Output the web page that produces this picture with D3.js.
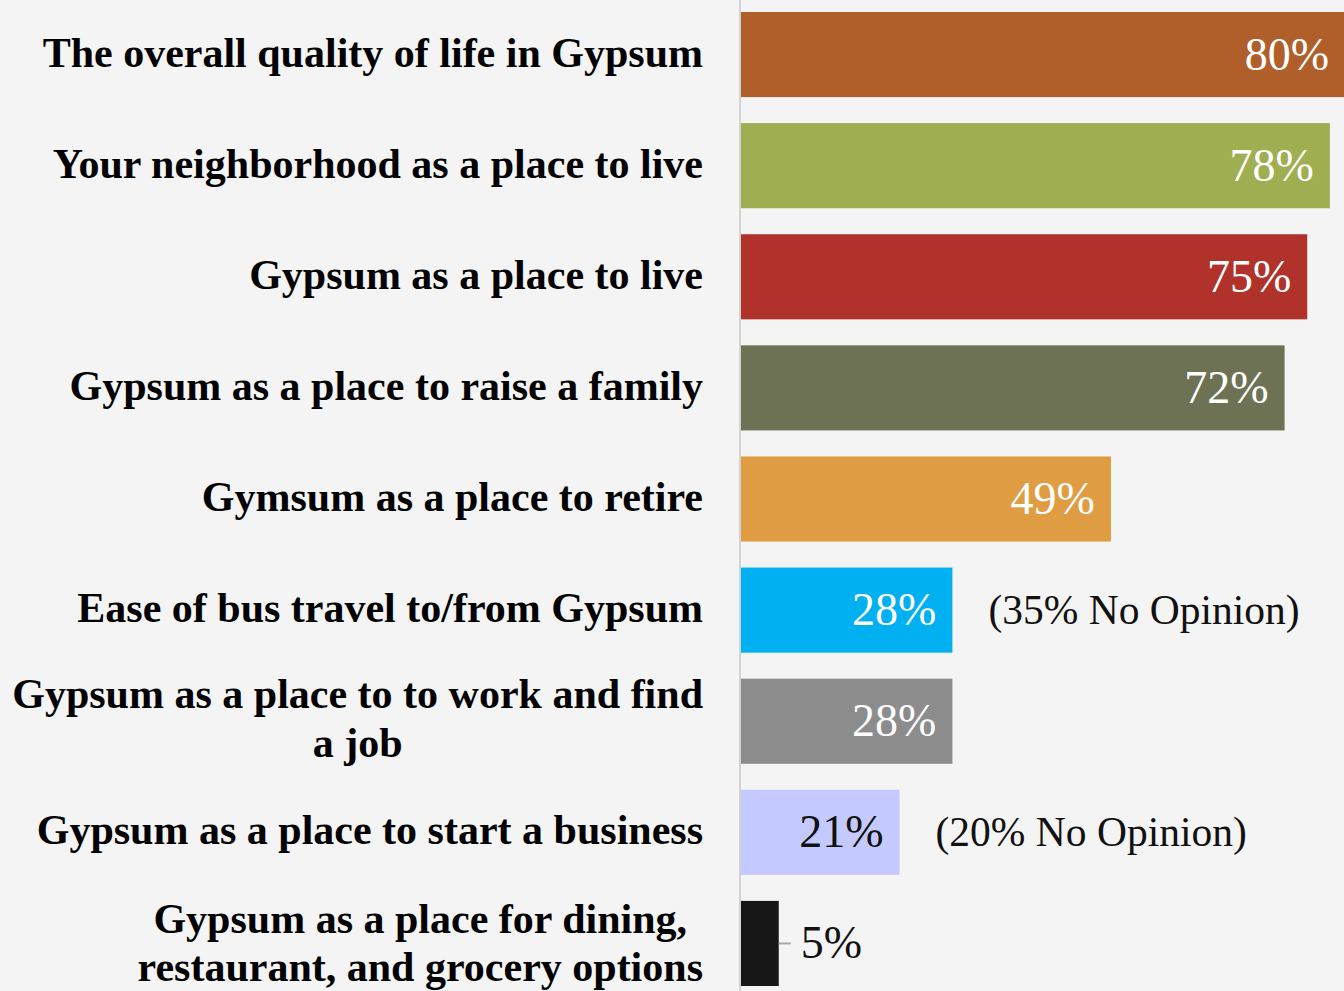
<!DOCTYPE html>
<html>
<head>
<meta charset="utf-8">
<script src="https://cdn.jsdelivr.net/npm/d3@7"></script>
<style>
  body { margin: 0; background: #f4f4f4; }
  svg { display: block; }
</style>
</head>
<body>
<div id="chart"></div>
<script>
var categories = [
    "The overall quality of life in Gypsum",
    "Your neighborhood as a place to live",
    "Gypsum as a place to live",
    "Gypsum as a place to raise a family",
    "Gymsum as a place to retire",
    "Ease of bus travel to/from Gypsum",
    "Gypsum as a place to to work and find|a job",
    "Gypsum as a place to start a business",
    "Gypsum as a place for dining,|restaurant, and grocery options"
];
var values = [80, 78, 75, 72, 49, 28, 28, 21, 5];
var colors = ["#b05e2a", "#a0ae52", "#b0322b", "#6e7254", "#e09c42", "#00b0f0", "#8c8c8c", "#c4caff", "#171717"];
var labelColors = ["#fff", "#fff", "#fff", "#fff", "#fff", "#fff", "#fff", "#111", "#111"];
var notes = ["", "", "", "", "", "(35% No Opinion)", "", "(20% No Opinion)", ""];

var width = 1344,
    height = 991,
    axisX = 741,
    labelRight = 703;

var svg = d3.select("#chart")
    .append("svg")
    .attr("width", width)
    .attr("height", height);

// scales
var x = d3.scaleLinear()
    .domain([0, 80])
    .range([axisX, axisX + 604]);

var y = d3.scaleBand()
    .domain(d3.range(values.length))
    .range([-1, 999])
    .paddingInner(0.234)
    .paddingOuter(0.117);

// axis line
svg.append("line")
    .attr("x1", axisX - 1).attr("x2", axisX - 1)
    .attr("y1", 0).attr("y2", height)
    .style("stroke", "#d2d2d2")
    .style("stroke-width", 2);

// bars
svg.append("g")
    .selectAll("rect")
    .data(values)
    .enter()
    .append("rect")
    .attr("x", x(0))
    .attr("y", (d, i) => y(i))
    .attr("width", d => x(d) - x(0))
    .attr("height", y.bandwidth())
    .style("fill", (d, i) => colors[i]);

// category labels
var lab = svg.append("g")
    .selectAll("text")
    .data(categories)
    .enter()
    .append("text")
    .style("font-family", "'Liberation Serif', serif")
    .style("font-weight", "bold")
    .style("font-size", "42px")
    .style("fill", "#000");

lab.each(function(d, i) {
    var parts = d.split("|");
    var cy = y(i) + y.bandwidth() / 2;
    var t = d3.select(this);
    if (parts.length == 1) {
        t.attr("text-anchor", "end")
            .append("tspan").attr("x", labelRight).attr("y", cy + 12).text(parts[0]);
    } else {
        // two line labels: centred block, right edge at labelRight
        t.attr("text-anchor", "middle");
        var off = i == 6 ? [-13, 36] : [-10, 38];
        var spans = parts.map((p, k) => t.append("tspan").attr("y", cy + off[k]).text(p));
        var w = d3.max(spans, s => s.node().getComputedTextLength());
        spans.forEach(s => s.attr("x", labelRight - w / 2));
    }
});

// value labels
svg.append("g")
    .selectAll("text")
    .data(values)
    .enter()
    .append("text")
    .attr("x", d => d < 10 ? x(d) + 22 : x(d) - 16)
    .attr("y", (d, i) => y(i) + y.bandwidth() / 2 + 15)
    .attr("text-anchor", d => d < 10 ? "start" : "end")
    .style("font-family", "'Liberation Serif', serif")
    .style("font-size", "46px")
    .style("fill", (d, i) => labelColors[i])
    .text(d => d + "%");

// leader line for small bar
svg.append("line")
    .attr("x1", x(5)).attr("x2", x(5) + 12)
    .attr("y1", y(8) + y.bandwidth() / 2).attr("y2", y(8) + y.bandwidth() / 2)
    .style("stroke", "#a6a6a6")
    .style("stroke-width", 2);

// no opinion notes
svg.append("g")
    .selectAll("text")
    .data(notes)
    .enter()
    .append("text")
    .attr("x", (d, i) => x(values[i]) + 36)
    .attr("y", (d, i) => y(i) + y.bandwidth() / 2 + 14)
    .style("font-family", "'Liberation Serif', serif")
    .style("font-size", "41.5px")
    .style("fill", "#111")
    .text(d => d);
</script>
</body>
</html>
